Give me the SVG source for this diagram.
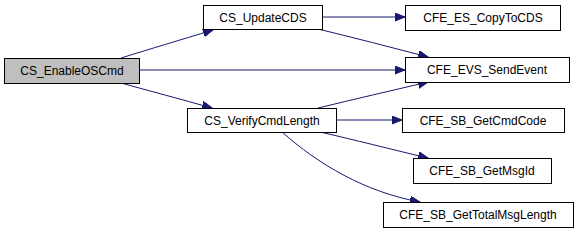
<svg xmlns="http://www.w3.org/2000/svg" width="585" height="240" viewBox="0 0 585 240">
  <style>
    .box { fill: #ffffff; stroke: #000000; stroke-width: 1; }
    .root { fill: #bfbfbf; }
    .lbl { font-family: "Liberation Sans", Arial, sans-serif; font-size: 12px; fill: #000000; text-anchor: middle; }
    .edge { fill: none; stroke: #191970; stroke-width: 1; marker-end: url(#arrow); }
  </style>
  <defs>
    <marker id="arrow" markerUnits="userSpaceOnUse" markerWidth="11" markerHeight="9" refX="10" refY="4" orient="auto">
      <path d="M0,0 L10,4 L0,8 Z" fill="#191970" stroke="#191970" stroke-width="1"/>
    </marker>
  </defs>
  <rect width="585" height="240" fill="#ffffff"/>

  <g id="edges">
    <path class="edge" d="M121,58 C150,49 180,40 213,30"/>
    <path class="edge" d="M139,70 L405,70"/>
    <path class="edge" d="M121,83 C150,91 180,99 212,108"/>
    <path class="edge" d="M322,17 L405,17"/>
    <path class="edge" d="M318,29 C355,38 390,47 428,57"/>
    <path class="edge" d="M318,108 C355,99 390,91 428,82"/>
    <path class="edge" d="M336,120 L402,120"/>
    <path class="edge" d="M320,132 C355,140 390,149 428,158"/>
    <path class="edge" d="M282,132 C318,164 365,192 420,202"/>
  </g>

  <g id="CS_EnableOSCmd">
    <rect class="box root" x="4.5" y="58.5" width="135" height="25"/>
    <text class="lbl" x="72" y="75">CS_EnableOSCmd</text>
  </g>
  <g id="CS_UpdateCDS">
    <rect class="box" x="203.5" y="5.5" width="119" height="24"/>
    <text class="lbl" x="263" y="22">CS_UpdateCDS</text>
  </g>
  <g id="CS_VerifyCmdLength">
    <rect class="box" x="187.5" y="108.5" width="149" height="24"/>
    <text class="lbl" x="262" y="125">CS_VerifyCmdLength</text>
  </g>
  <g id="CFE_ES_CopyToCDS">
    <rect class="box" x="405.5" y="5.5" width="155" height="25"/>
    <text class="lbl" x="483" y="22">CFE_ES_CopyToCDS</text>
  </g>
  <g id="CFE_EVS_SendEvent">
    <rect class="box" x="405.5" y="57.5" width="164" height="25"/>
    <text class="lbl" x="487" y="74">CFE_EVS_SendEvent</text>
  </g>
  <g id="CFE_SB_GetCmdCode">
    <rect class="box" x="402.5" y="108.5" width="162" height="24"/>
    <text class="lbl" x="483" y="125">CFE_SB_GetCmdCode</text>
  </g>
  <g id="CFE_SB_GetMsgId">
    <rect class="box" x="413.5" y="158.5" width="138" height="25"/>
    <text class="lbl" x="482" y="175">CFE_SB_GetMsgId</text>
  </g>
  <g id="CFE_SB_GetTotalMsgLength">
    <rect class="box" x="383.5" y="202.5" width="190" height="25"/>
    <text class="lbl" x="478" y="219">CFE_SB_GetTotalMsgLength</text>
  </g>
</svg>
